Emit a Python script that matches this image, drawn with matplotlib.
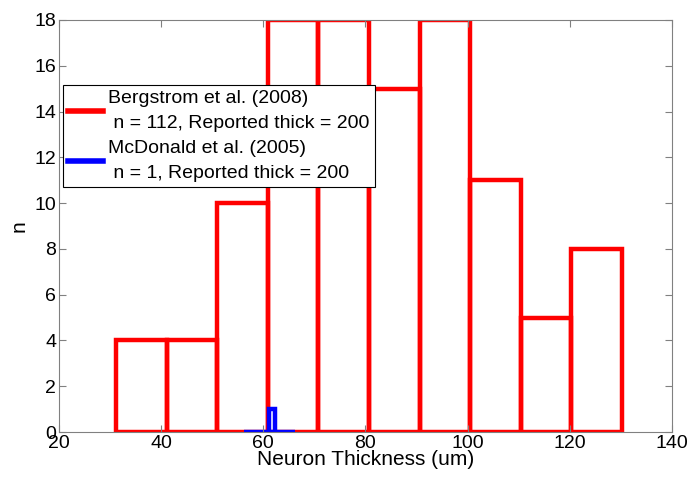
import matplotlib
matplotlib.use("Agg")
import matplotlib.pyplot as plt

plt.rcParams['font.family'] = ['Liberation Sans', 'DejaVu Sans']

# Bergstrom et al. (2008) histogram
berg_edges = [31.2, 41.1, 51.0, 60.9, 70.8, 80.7, 90.6, 100.5, 110.4, 120.3, 130.2]
berg_counts = [4, 4, 10, 18, 18, 15, 18, 11, 5, 8]

# McDonald et al. (2005) histogram
mcd_edges = [56.2, 57.2, 58.2, 59.2, 60.2, 61.2, 62.2, 63.2, 64.2, 65.2, 66.2]
mcd_counts = [0, 0, 0, 0, 0, 1, 0, 0, 0, 0]

labels = ["Bergstrom et al. (2008)\n n = 112, Reported thick = 200",
          "McDonald et al. (2005)\n n = 1, Reported thick = 200"]

fig = plt.figure(figsize=(6.89, 4.78), dpi=100)
ax = fig.add_axes([0.0856, 0.0962, 0.8897, 0.862])

def draw_hist(edges, counts, color, lw, label):
    lefts = edges[:-1]
    widths = [b - a for a, b in zip(edges[:-1], edges[1:])]
    ax.bar(lefts, counts, width=widths, align='edge', fill=False,
           edgecolor=color, linewidth=lw)
    ax.plot([], [], color=color, linewidth=4, label=label)

draw_hist(berg_edges, berg_counts, 'red', 3.2, labels[0])
draw_hist(mcd_edges, mcd_counts, 'blue', 3.2, labels[1])

ax.set_xlim(20, 140)
ax.set_ylim(0, 18)
ax.set_xticks(range(20, 141, 20))
ax.set_yticks(range(0, 19, 2))
ax.tick_params(direction='in', top=True, right=True, length=5, color='#808080',
               labelsize=14, pad=2)
for s in ax.spines.values():
    s.set_color('#808080')
ax.set_xlabel("Neuron Thickness (um)", fontsize=15, labelpad=-1)
ax.set_ylabel("n", fontsize=15, labelpad=4)

leg = ax.legend(loc='upper left', bbox_to_anchor=(0.006, 0.842), fontsize=14,
                fancybox=False, framealpha=1, edgecolor='black',
                handlelength=1.8, handletextpad=0.3, labelspacing=0.45,
                borderpad=0.25, borderaxespad=0)
leg.get_frame().set_linewidth(0.8)
for t in leg.get_texts():
    t.set_linespacing(1.6)

fig.savefig("out.png", dpi=100)
